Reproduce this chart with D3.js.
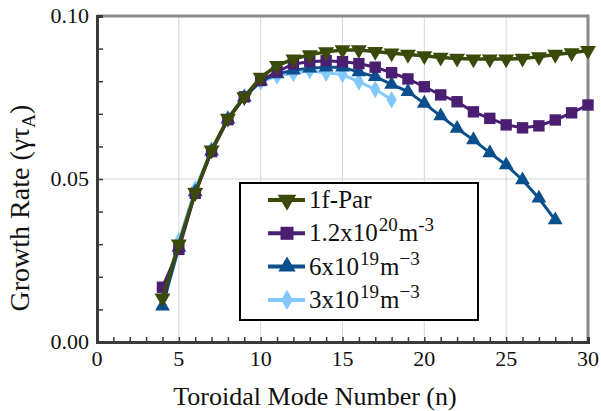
<!DOCTYPE html>
<html>
<head>
<meta charset="utf-8">
<script src="https://cdnjs.cloudflare.com/ajax/libs/d3/7.8.5/d3.min.js"></script>
<style>
  body { margin: 0; background: #fff; }
  text { font-family: "Liberation Serif", "DejaVu Serif", serif; fill: #111; }
</style>
</head>
<body>
<div id="chart"></div>
<script>
  let nFull = d3.range(4, 31);
  let nShort = d3.range(4, 19);

  let par1f = [0.0135, 0.0300, 0.0458, 0.0589, 0.0686, 0.0752, 0.0812, 0.0848, 0.0868, 0.0881,
               0.0890, 0.0896, 0.0896, 0.0891, 0.0886, 0.0882, 0.0878, 0.0873, 0.0870, 0.0868,
               0.0868, 0.0868, 0.0870, 0.0875, 0.0882, 0.0887, 0.0894];
  let dens12e20 = [0.0168, 0.0284, 0.0456, 0.0584, 0.0682, 0.0752, 0.0802, 0.0829, 0.0853, 0.0860,
                   0.0863, 0.0860, 0.0854, 0.0843, 0.0826, 0.0807, 0.0783, 0.0758, 0.0737, 0.0706,
                   0.0686, 0.0666, 0.0657, 0.0663, 0.0681, 0.0703, 0.0727];
  let dens6e19 = [0.0110, 0.0290, 0.0460, 0.0585, 0.0683, 0.0750, 0.0800, 0.0822, 0.0834, 0.0840,
                  0.0843, 0.0843, 0.0828, 0.0814, 0.0790, 0.0768, 0.0732, 0.0693, 0.0655, 0.0620,
                  0.0580, 0.0543, 0.0497, 0.0441, 0.0374];
  let dens3e19 = [0.0135, 0.0310, 0.0470, 0.0590, 0.0685, 0.0752, 0.0798, 0.0816, 0.0824, 0.0832,
                  0.0825, 0.0821, 0.0798, 0.0775, 0.0743];

  let xTicks = [0, 5, 10, 15, 20, 25, 30];
  let yTicks = [0, 0.05, 0.10];

  let width = 601, height = 411;
  let margin = { top: 16, right: 13, bottom: 69, left: 97 };

  let x = d3.scaleLinear().domain([0, 30]).range([margin.left, width - margin.right]);
  let y = d3.scaleLinear().domain([0, 0.10]).range([height - margin.bottom, margin.top]);

  let svg = d3.select('#chart').append('svg')
    .attr('width', width)
    .attr('height', height);

  // grid
  svg.append('g')
    .selectAll('line.vg')
    .data(xTicks.slice(1, -1))
    .enter().append('line')
    .attr('x1', d => x(d)).attr('x2', d => x(d))
    .attr('y1', y(0)).attr('y2', y(0.10))
    .attr('stroke', '#d6d6d6').attr('stroke-width', 1);

  svg.append('g')
    .selectAll('line.hg')
    .data([0.05])
    .enter().append('line')
    .attr('x1', x(0)).attr('x2', x(30))
    .attr('y1', d => y(d)).attr('y2', d => y(d))
    .attr('stroke', '#d6d6d6').attr('stroke-width', 1);

  // top / right frame
  svg.append('path')
    .attr('d', `M${x(0)},${y(0.10)}H${x(30)}V${y(0)}`)
    .attr('fill', 'none').attr('stroke', '#8a8a8a').attr('stroke-width', 3);

  // axes with inward minor ticks
  let xAxis = d3.axisTop(x).tickValues(d3.range(0, 31)).tickSize(5).tickFormat('');
  let gx = svg.append('g').attr('transform', `translate(0,${y(0)})`).call(xAxis);
  let yAxis = d3.axisRight(y).tickValues(d3.range(0, 0.1001, 0.01)).tickSize(6).tickFormat('');
  let gy = svg.append('g').attr('transform', `translate(${x(0)},0)`).call(yAxis);
  [gx, gy].forEach(g => {
    g.select('.domain').attr('stroke', '#3a3a3a').attr('stroke-width', 3);
    g.selectAll('.tick line').attr('stroke', '#3a3a3a').attr('stroke-width', 1.5);
  });

  svg.append('g').selectAll('text')
    .data(xTicks).enter().append('text')
    .attr('x', d => x(d)).attr('y', 366)
    .attr('text-anchor', 'middle')
    .style('font-size', '22px')
    .text(d => d);

  svg.append('g').selectAll('text')
    .data(yTicks).enter().append('text')
    .attr('x', 89).attr('y', d => y(d))
    .attr('text-anchor', 'end')
    .attr('dy', '0.34em')
    .style('font-size', '22px')
    .text(d => d3.format('.2f')(d));

  svg.append('text')
    .attr('x', 315).attr('y', 405)
    .attr('text-anchor', 'middle')
    .style('font-size', '26px')
    .text('Toroidal Mode Number (n)');

  let yt = svg.append('text')
    .attr('transform', 'translate(29,208) rotate(-90)')
    .attr('text-anchor', 'middle')
    .style('font-size', '28px');
  yt.append('tspan').text('Growth Rate (\u03B3\u03C4');
  yt.append('tspan').attr('dy', 6).style('font-size', '19px').text('A');
  yt.append('tspan').attr('dy', -6).text(')');

  // series
  let series = [
    { name: '3e19', n: nShort, v: dens3e19, color: '#82c8fb', sym: d3.symbolDiamond, size: 90, rot: 0, width: 3 },
    { name: '6e19', n: nFull.slice(0, dens6e19.length), v: dens6e19, color: '#0b4f8c', sym: d3.symbolTriangle, size: 95, rot: 0, width: 3 },
    { name: '12e20', n: nFull, v: dens12e20, color: '#4a1f72', sym: d3.symbolSquare, size: 130, rot: 0, width: 3 },
    { name: 'par', n: nFull, v: par1f, color: '#394a0a', sym: d3.symbolTriangle, size: 110, rot: 180, width: 3.5 }
  ];

  let line = d3.line().x(d => x(d[0])).y(d => y(d[1]));

  series.forEach(s => {
    let pts = s.n.map((n, i) => [n, s.v[i]]);
    let g = svg.append('g');
    g.append('path')
      .attr('d', line(pts))
      .attr('fill', 'none')
      .attr('stroke', s.color)
      .attr('stroke-width', s.width);
    g.selectAll('path.m')
      .data(pts).enter().append('path')
      .attr('class', 'm')
      .attr('d', d3.symbol().type(s.sym).size(s.size))
      .attr('transform', d => `translate(${x(d[0])},${y(d[1])}) rotate(${s.rot})`)
      .attr('fill', s.color);
  });

  // legend
  let legendItems = [
    { color: '#394a0a', sym: d3.symbolTriangle, size: 150, rot: 180, base: '1f-Par', sup1: '', mid: '', sup2: '' },
    { color: '#4a1f72', sym: d3.symbolSquare, size: 170, rot: 0, base: '1.2x10', sup1: '20', mid: 'm', sup2: '-3' },
    { color: '#0b4f8c', sym: d3.symbolTriangle, size: 130, rot: 0, base: '6x10', sup1: '19', mid: 'm', sup2: '\u22123' },
    { color: '#82c8fb', sym: d3.symbolDiamond, size: 120, rot: 0, base: '3x10', sup1: '19', mid: 'm', sup2: '\u22123' }
  ];

  let lg = svg.append('g');
  lg.append('rect')
    .attr('x', 240).attr('y', 183)
    .attr('width', 238).attr('height', 137)
    .attr('fill', '#fff').attr('stroke', '#000').attr('stroke-width', 2);

  let legend = lg.selectAll('.legend')
    .data(legendItems).enter().append('g')
    .attr('class', 'legend')
    .attr('transform', (d, i) => 'translate(0,' + (200 + i * 33.3) + ')');

  legend.append('line')
    .attr('x1', 268).attr('x2', 305)
    .attr('stroke', d => d.color).attr('stroke-width', 4);
  legend.append('path')
    .attr('d', d => d3.symbol().type(d.sym).size(d.size)())
    .attr('transform', d => `translate(287,0) rotate(${d.rot})`)
    .attr('fill', d => d.color);

  let lt = legend.append('text')
    .attr('x', 309).attr('y', 8)
    .style('font-size', '25px');
  lt.append('tspan').text(d => d.base);
  lt.append('tspan').attr('dx', 1).attr('dy', -10).style('font-size', '19px').text(d => d.sup1);
  lt.append('tspan').attr('dx', 1).attr('dy', 10).text(d => d.mid);
  lt.append('tspan').attr('dy', -10).style('font-size', '19px').text(d => d.sup2);
</script>
</body>
</html>
